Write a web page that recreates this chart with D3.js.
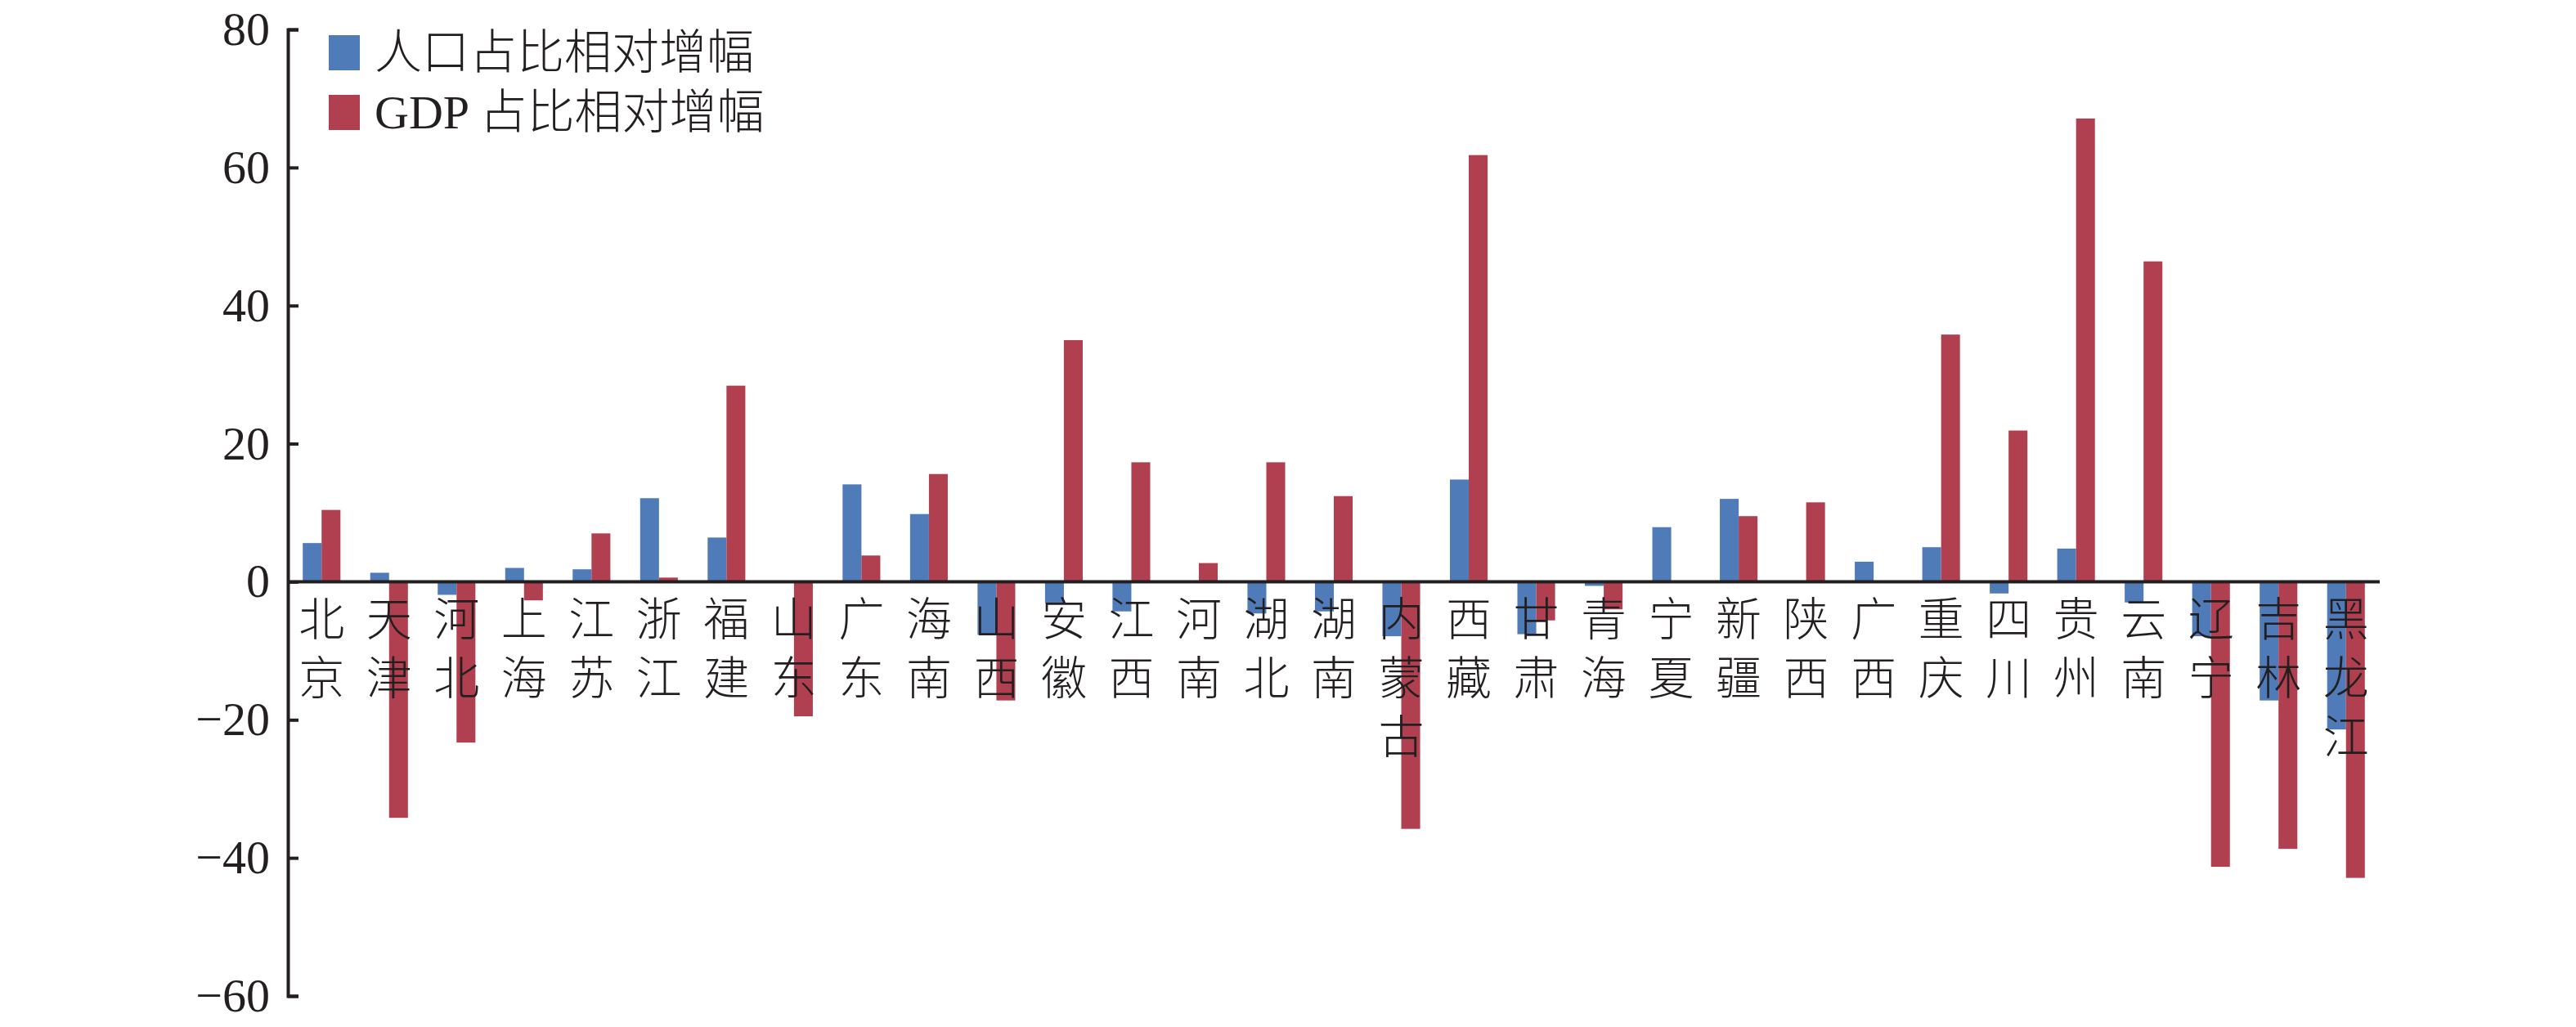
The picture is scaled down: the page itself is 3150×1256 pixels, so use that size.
<!DOCTYPE html>
<html>
<head>
<meta charset="utf-8">
<script src="https://cdn.jsdelivr.net/npm/d3@7"></script>
<style>
    body { margin: 0; background: #fff; }
    svg { display: block; }
    .num { font-family: "Liberation Serif", "Times New Roman", serif; }
    .cjk { font-family: "Liberation Serif", "Noto Sans CJK SC", serif; font-weight: 300; }
</style>
</head>
<body>
<svg id="chart"></svg>
<script>
// provinces on the x axis (labels are written top-down, one char per line)
const provinces = ["北京", "天津", "河北", "上海", "江苏", "浙江", "福建", "山东", "广东", "海南",
    "山西", "安徽", "江西", "河南", "湖北", "湖南", "内蒙古", "西藏", "甘肃", "青海",
    "宁夏", "新疆", "陕西", "广西", "重庆", "四川", "贵州", "云南", "辽宁", "吉林", "黑龙江"];

// series names (legend)
const seriesNames = ["人口占比相对增幅", "GDP 占比相对增幅"];

// relative increase of population share
const popValues = [5.6, 1.3, -1.9, 2.0, 1.8, 12.1, 6.4, 0, 14.1, 9.8,
    -7.7, -3.1, -4.3, 0, -4.6, -4.3, -7.9, 14.8, -7.6, -0.6,
    7.9, 12.0, 0, 2.9, 5.0, -1.7, 4.8, -3.0, -7.9, -17.2, -21.4];

// relative increase of GDP share
const gdpValues = [10.4, -34.2, -23.3, -2.7, 7.0, 0.6, 28.4, -19.5, 3.8, 15.6,
    -17.2, 35.0, 17.3, 2.7, 17.3, 12.4, -35.8, 61.8, -5.6, -4.0,
    0.1, 9.5, 11.5, 0, 35.8, 21.9, 67.1, 46.4, -41.3, -38.7, -42.9];

// y axis ticks
const yTicks = [-60, -40, -20, 0, 20, 40, 60, 80];

const colors = ["#4f7bb8", "#b0404f"];

// create canvas
const canvWidth = 3150;
const canvHeight = 1256;
const margin = { top: 36, right: 240, bottom: 38, left: 352 };
const width = canvWidth - margin.left - margin.right;
const height = canvHeight - margin.top - margin.bottom;

const svg = d3.select("#chart")
    .attr("width", canvWidth)
    .attr("height", canvHeight);

const g = svg.append("g")
    .attr("transform", "translate(" + margin.left + "," + margin.top + ")");

// scales
const x0 = d3.scaleBand()
    .domain(provinces)
    .range([0, width]);

const x1 = d3.scaleBand()
    .domain([0, 1])
    .range([0, x0.bandwidth()])
    .paddingOuter(0.79);

const y = d3.scaleLinear()
    .domain([-60, 80])
    .range([height, 0]);

// table for the grouped bars
const data = provinces.map(function (p, i) {
    return { name: p, values: [popValues[i], gdpValues[i]] };
});

// bars
const groups = g.selectAll(".group")
    .data(data)
    .enter().append("g")
    .attr("class", "group")
    .attr("transform", function (d) { return "translate(" + x0(d.name) + ",0)"; });

groups.selectAll("rect")
    .data(function (d) { return d.values.map(function (v, k) { return { k: k, v: v }; }); })
    .enter().append("rect")
    .attr("x", function (d) { return x1(d.k); })
    .attr("width", x1.bandwidth())
    .attr("y", function (d) { return y(Math.max(0, d.v)); })
    .attr("height", function (d) { return Math.abs(y(d.v) - y(0)); })
    .attr("fill", function (d) { return colors[d.k]; });

// y axis, ticks pointing inward
const yAxis = g.append("g")
    .attr("class", "num")
    .call(d3.axisLeft(y)
        .tickValues(yTicks)
        .tickSize(-13)
        .tickPadding(22)
        .tickFormat(function (d) { return d < 0 ? "\u2212" + Math.abs(d) : d; }));

yAxis.select(".domain").attr("stroke", "#231f20").attr("stroke-width", 4);
yAxis.selectAll(".tick line").attr("stroke", "#231f20").attr("stroke-width", 4);
yAxis.selectAll(".tick text")
    .attr("fill", "#231f20")
    .style("font-size", "58px")
    .style("font-family", "'Liberation Serif', serif");

// zero line
g.append("line")
    .attr("x1", 0)
    .attr("x2", width)
    .attr("y1", y(0))
    .attr("y2", y(0))
    .attr("stroke", "#231f20")
    .attr("stroke-width", 4);

// category labels, one char per line
const labels = g.selectAll(".cat")
    .data(provinces)
    .enter().append("text")
    .attr("class", "cjk")
    .attr("text-anchor", "middle")
    .attr("fill", "#231f20")
    .style("font-size", "56px");

labels.selectAll("tspan")
    .data(function (d) { return d.split("").map(function (c) { return { c: c, p: d }; }); })
    .enter().append("tspan")
    .attr("x", function (d) { return x0(d.p) + x0.bandwidth() / 2; })
    .attr("y", function (d, i) { return y(0) + 47 + i * 72; })
    .attr("dominant-baseline", "central")
    .text(function (d) { return d.c; });

// legend
const legend = g.selectAll(".legend")
    .data(seriesNames)
    .enter().append("g")
    .attr("class", "legend")
    .attr("transform", function (d, i) { return "translate(50," + (28 + i * 73) + ")"; });

legend.append("rect")
    .attr("x", 0)
    .attr("y", -21)
    .attr("width", 38)
    .attr("height", 43)
    .attr("fill", function (d, i) { return colors[i]; });

legend.append("text")
    .attr("class", "cjk")
    .attr("x", 56)
    .attr("y", 0)
    .attr("dominant-baseline", "central")
    .attr("fill", "#231f20")
    .style("font-size", "58px")
    .text(function (d) { return d; });
</script>
</body>
</html>
